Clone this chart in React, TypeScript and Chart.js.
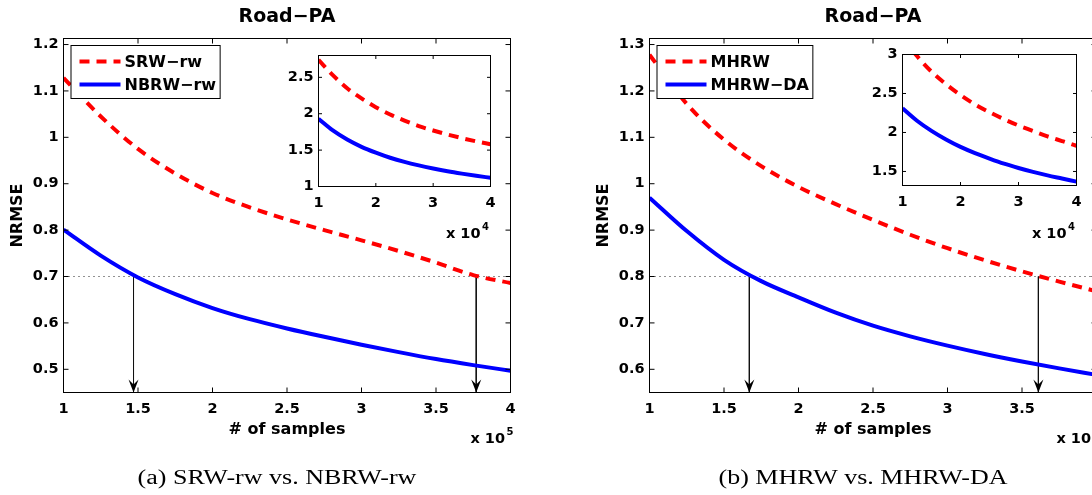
import React, { useEffect, useRef } from "react";
import { Chart, registerables } from "chart.js";
Chart.register(...registerables);

// ---------- data ----------
// main panels: # of samples (x 10^5)
const samples = [1, 1.25, 1.5, 1.75, 2, 2.25, 2.5, 2.75, 3, 3.25, 3.5, 3.75, 4];
const srwRw = [1.128, 1.045, 0.975, 0.922, 0.88, 0.849, 0.823, 0.8, 0.778, 0.755, 0.73, 0.703, 0.686];
const nbrwRw = [0.801, 0.745, 0.698, 0.662, 0.632, 0.608, 0.588, 0.57, 0.553, 0.537, 0.522, 0.509, 0.497];
const mhrw = [1.278, 1.172, 1.095, 1.038, 0.993, 0.956, 0.922, 0.89, 0.861, 0.835, 0.811, 0.789, 0.768];
const mhrwDa = [0.97, 0.898, 0.836, 0.79, 0.755, 0.722, 0.694, 0.671, 0.651, 0.633, 0.617, 0.602, 0.588];

// insets: # of samples (x 10^4)
const insetSamples = [1, 1.25, 1.5, 1.75, 2, 2.25, 2.5, 2.75, 3, 3.25, 3.5, 3.75, 4];
const srwRwInset = [2.74, 2.53, 2.35, 2.21, 2.09, 1.99, 1.905, 1.83, 1.77, 1.715, 1.665, 1.62, 1.58];
const nbrwRwInset = [1.93, 1.77, 1.645, 1.545, 1.465, 1.395, 1.338, 1.29, 1.248, 1.21, 1.177, 1.147, 1.12];
const mhrwInset = [3.22, 2.98, 2.78, 2.62, 2.48, 2.36, 2.26, 2.17, 2.09, 2.02, 1.95, 1.89, 1.83];
const mhrwDaInset = [2.31, 2.15, 2.02, 1.91, 1.815, 1.735, 1.665, 1.6, 1.545, 1.495, 1.45, 1.41, 1.37];

// reference level and the sample counts where each curve reaches it
const levelA = 0.7;
const arrowsA = [1.47, 3.77];
const levelB = 0.8;
const arrowsB = [1.67, 3.61];

// tick labels
const xTicksMain = [1, 1.5, 2, 2.5, 3, 3.5, 4];
const yTicksA = [0.5, 0.6, 0.7, 0.8, 0.9, 1, 1.1, 1.2];
const yTicksB = [0.6, 0.7, 0.8, 0.9, 1, 1.1, 1.2, 1.3];
const xTicksInset = [1, 2, 3, 4];
const yTicksInsetA = [1, 1.5, 2, 2.5];
const yTicksInsetB = [1.5, 2, 2.5, 3];

const labelsA = ["SRW\u2212rw", "NBRW\u2212rw"];
const labelsB = ["MHRW", "MHRW\u2212DA"];
const titleText = "Road\u2212PA";
const xLabelText = "# of samples";
const yLabelText = "NRMSE";
const captionA = "(a) SRW-rw vs. NBRW-rw";
const captionB = "(b) MHRW vs. MHRW-DA";

// ---------- styling ----------
const SANS = '"DejaVu Sans", sans-serif';
const RED = "#ff0000";
const BLUE = "#0000ff";
const tickFont = { family: SANS, size: 14.5, weight: "bold" as const };

const matlabPlugin = {
  id: "matlab",
  beforeDatasetsDraw(chart: any, _a: any, o: any) {
    if (o.whiteArea) {
      const { ctx, chartArea: ca } = chart;
      ctx.save();
      ctx.fillStyle = "#fff";
      ctx.fillRect(ca.left, ca.top, ca.right - ca.left, ca.bottom - ca.top);
      ctx.restore();
    }
  },
  afterDraw(chart: any, _a: any, o: any) {
    const { ctx, chartArea: ca, scales } = chart;
    const xs = scales.x;
    const ys = scales.y;
    ctx.save();
    ctx.fillStyle = "#000";
    // arrowheads
    (o.arrows || []).forEach((xv: number) => {
      const px = xs.getPixelForValue(xv);
      const py = ca.bottom;
      ctx.beginPath();
      ctx.moveTo(px, py);
      ctx.lineTo(px - 5, py - 13);
      ctx.lineTo(px, py - 8);
      ctx.lineTo(px + 5, py - 13);
      ctx.closePath();
      ctx.fill();
    });
    // frame + inward ticks
    ctx.strokeStyle = "#000";
    ctx.lineWidth = 1;
    ctx.strokeRect(ca.left, ca.top, ca.right - ca.left, ca.bottom - ca.top);
    const L = o.tickLen;
    ctx.beginPath();
    xs.ticks.forEach((t: any) => {
      const p = xs.getPixelForValue(t.value);
      ctx.moveTo(p, ca.bottom);
      ctx.lineTo(p, ca.bottom - L);
      ctx.moveTo(p, ca.top);
      ctx.lineTo(p, ca.top + L);
    });
    ys.ticks.forEach((t: any) => {
      const p = ys.getPixelForValue(t.value);
      ctx.moveTo(ca.left, p);
      ctx.lineTo(ca.left + L, p);
      ctx.moveTo(ca.right, p);
      ctx.lineTo(ca.right - L, p);
    });
    ctx.stroke();

    const cx = (ca.left + ca.right) / 2;
    const cy = (ca.top + ca.bottom) / 2;
    // title
    if (o.title) {
      ctx.font = `bold 19px ${SANS}`;
      ctx.textAlign = "center";
      ctx.textBaseline = "alphabetic";
      ctx.fillText(o.title, cx, 22);
    }
    if (o.xLabel) {
      ctx.font = `bold 16px ${SANS}`;
      ctx.textAlign = "center";
      ctx.textBaseline = "alphabetic";
      ctx.fillText(o.xLabel, cx, ca.bottom + 41.5);
    }
    if (o.yLabel) {
      ctx.save();
      ctx.translate(ca.left - 46, cy);
      ctx.rotate(-Math.PI / 2);
      ctx.font = `bold 16px ${SANS}`;
      ctx.textAlign = "center";
      ctx.textBaseline = "middle";
      ctx.fillText(o.yLabel, 0, 0);
      ctx.restore();
    }
    // exponent
    if (o.exponent) {
      const e = o.exponent;
      ctx.font = `bold 14.5px ${SANS}`;
      ctx.textAlign = "right";
      ctx.textBaseline = "alphabetic";
      ctx.fillText("x 10", ca.right + e.dx, ca.bottom + e.dy);
      ctx.font = `bold 10px ${SANS}`;
      ctx.textAlign = "left";
      ctx.fillText(e.power, ca.right + e.dx + 1.5, ca.bottom + e.dy - 8);
    }
    // legend
    if (o.legend) {
      const ds = chart.data.datasets.slice(0, 2);
      ctx.font = `bold 16px ${SANS}`;
      const tw = Math.max(...ds.map((d: any) => ctx.measureText(d.label).width));
      const bx = ca.left + 7.5;
      const by = 45.5;
      const textX = ca.left + 61;
      const bw = textX + tw + 4 - bx;
      const bh = 53;
      ctx.fillStyle = "#fff";
      ctx.fillRect(bx, by, bw, bh);
      ctx.strokeStyle = "#000";
      ctx.lineWidth = 1;
      ctx.strokeRect(bx, by, bw, bh);
      ds.forEach((d: any, i: number) => {
        const yy = by + 16 + i * 23;
        ctx.save();
        ctx.strokeStyle = d.borderColor;
        ctx.lineWidth = d.borderWidth;
        ctx.setLineDash(d.borderDash || []);
        ctx.beginPath();
        ctx.moveTo(ca.left + 16, yy);
        ctx.lineTo(ca.left + 57, yy);
        ctx.stroke();
        ctx.restore();
        ctx.fillStyle = "#000";
        ctx.textAlign = "left";
        ctx.textBaseline = "middle";
        ctx.fillText(d.label, textX, yy + 1);
      });
    }
    // caption
    if (o.caption) {
      ctx.save();
      ctx.translate(cx - 10, 484);
      ctx.scale(1.3, 1);
      ctx.font = `20px "Liberation Serif", serif`;
      ctx.fillStyle = "#000";
      ctx.textAlign = "center";
      ctx.textBaseline = "alphabetic";
      ctx.fillText(o.caption, 0, 0);
      ctx.restore();
    }
    ctx.restore();
  },
};

type PanelSpec = {
  xs: number[];
  red: number[];
  blue: number[];
  labels: string[];
  xMin: number;
  xMax: number;
  yMin: number;
  yMax: number;
  xTicks: number[];
  yTicks: number[];
  pad: { L: number; T: number; R: number; B: number };
  level?: number;
  arrows?: number[];
  inset?: boolean;
  plugin: any;
};

function buildConfig(p: PanelSpec): any {
  const datasets: any[] = [
    {
      label: p.labels[0],
      data: p.xs.map((x, i) => ({ x, y: p.red[i] })),
      borderColor: RED,
      borderWidth: 4,
      borderDash: [10, 7],
      pointRadius: 0,
      cubicInterpolationMode: "monotone",
      fill: false,
      clip: p.inset ? 0 : undefined,
    },
    {
      label: p.labels[1],
      data: p.xs.map((x, i) => ({ x, y: p.blue[i] })),
      borderColor: BLUE,
      borderWidth: 4,
      pointRadius: 0,
      cubicInterpolationMode: "monotone",
      fill: false,
      clip: p.inset ? 0 : undefined,
    },
  ];
  if (p.level !== undefined) {
    datasets.push({
      label: "level",
      data: [
        { x: p.xMin, y: p.level },
        { x: p.xMax, y: p.level },
      ],
      borderColor: "#222",
      borderWidth: 1,
      borderDash: [1, 4],
      pointRadius: 0,
    });
    (p.arrows || []).forEach((a) => {
      datasets.push({
        label: "arrow",
        data: [
          { x: a, y: p.level },
          { x: a, y: p.yMin },
        ],
        borderColor: "#111",
        borderWidth: 1,
        pointRadius: 0,
      });
    });
  }
  return {
    type: "line",
    data: { datasets },
    options: {
      animation: false,
      responsive: false,
      events: [],
      layout: { padding: { top: p.pad.T, right: p.pad.R, left: 0, bottom: 0 } },
      scales: {
        x: {
          type: "linear",
          min: p.xMin,
          max: p.xMax,
          afterBuildTicks: (s: any) => {
            s.ticks = p.xTicks.map((v) => ({ value: v }));
          },
          afterFit: (s: any) => {
            s.height = p.pad.B;
          },
          grid: { display: false, drawTicks: false },
          border: { display: false },
          ticks: {
            font: tickFont,
            color: "#000",
            padding: 8,
            maxRotation: 0,
            autoSkip: false,
            callback: (v: any) => String(v),
          },
        },
        y: {
          type: "linear",
          min: p.yMin,
          max: p.yMax,
          afterBuildTicks: (s: any) => {
            s.ticks = p.yTicks.map((v) => ({ value: v }));
          },
          afterFit: (s: any) => {
            s.width = p.pad.L;
          },
          grid: { display: false, drawTicks: false },
          border: { display: false },
          ticks: {
            font: tickFont,
            color: "#000",
            padding: 5,
            autoSkip: false,
            callback: (v: any) => String(v),
          },
        },
      },
      plugins: {
        legend: { display: false },
        tooltip: { enabled: false },
        title: { display: false },
        matlab: p.plugin,
      },
    },
    plugins: [matlabPlugin],
  };
}

function ChartCanvas(props: { spec: PanelSpec; left: number; top: number; width: number; height: number }) {
  const ref = useRef<HTMLCanvasElement | null>(null);
  useEffect(() => {
    if (!ref.current) return;
    const chart = new Chart(ref.current, buildConfig(props.spec));
    return () => chart.destroy();
  }, []);
  return (
    <canvas
      ref={ref}
      width={props.width}
      height={props.height}
      style={{ position: "absolute", left: props.left, top: props.top, width: props.width, height: props.height }}
    />
  );
}

const mainA: PanelSpec = {
  xs: samples,
  red: srwRw,
  blue: nbrwRw,
  labels: labelsA,
  xMin: 1,
  xMax: 4,
  yMin: 0.45,
  yMax: 1.213,
  xTicks: xTicksMain,
  yTicks: yTicksA,
  pad: { L: 63.5, T: 38.5, R: 35.5, B: 102.5 },
  level: levelA,
  arrows: arrowsA,
  plugin: {
    tickLen: 5,
    arrows: arrowsA,
    title: titleText,
    xLabel: xLabelText,
    yLabel: yLabelText,
    exponent: { power: "5", dx: -5.5, dy: 50.5 },
    legend: true,
    caption: captionA,
  },
};

const mainB: PanelSpec = {
  xs: samples,
  red: mhrw,
  blue: mhrwDa,
  labels: labelsB,
  xMin: 1,
  xMax: 4,
  yMin: 0.55,
  yMax: 1.313,
  xTicks: xTicksMain,
  yTicks: yTicksB,
  pad: { L: 103.5, T: 38.5, R: 49.5, B: 102.5 },
  level: levelB,
  arrows: arrowsB,
  plugin: {
    tickLen: 5,
    arrows: arrowsB,
    title: titleText,
    xLabel: xLabelText,
    yLabel: yLabelText,
    exponent: { power: "5", dx: -5.5, dy: 50.5 },
    legend: true,
    caption: captionB,
  },
};

const insetA: PanelSpec = {
  xs: insetSamples,
  red: srwRwInset,
  blue: nbrwRwInset,
  labels: labelsA,
  xMin: 1,
  xMax: 4,
  yMin: 1,
  yMax: 2.8,
  xTicks: xTicksInset,
  yTicks: yTicksInsetA,
  pad: { L: 48.5, T: 15.5, R: 19.5, B: 63.5 },
  inset: true,
  plugin: { tickLen: 3.5, whiteArea: true, exponent: { power: "4", dx: -10, dy: 51.5 } },
};

const insetB: PanelSpec = {
  xs: insetSamples,
  red: mhrwInset,
  blue: mhrwDaInset,
  labels: labelsB,
  xMin: 1,
  xMax: 4,
  yMin: 1.32,
  yMax: 3,
  xTicks: xTicksInset,
  yTicks: yTicksInsetB,
  pad: { L: 52.5, T: 14.5, R: 15.5, B: 64.5 },
  inset: true,
  plugin: { tickLen: 3.5, whiteArea: true, exponent: { power: "4", dx: -10, dy: 52.5 } },
};

export default function App() {
  return (
    <div
      style={{
        position: "absolute",
        left: 0,
        top: 0,
        width: 1092,
        height: 495,
        overflow: "hidden",
        background: "#fff",
      }}
    >
      <ChartCanvas spec={mainA} left={0} top={0} width={546} height={495} />
      <ChartCanvas spec={mainB} left={546} top={0} width={600} height={495} />
      <ChartCanvas spec={insetA} left={270} top={40} width={240} height={210} />
      <ChartCanvas spec={insetB} left={850} top={40} width={242} height={210} />
    </div>
  );
}
